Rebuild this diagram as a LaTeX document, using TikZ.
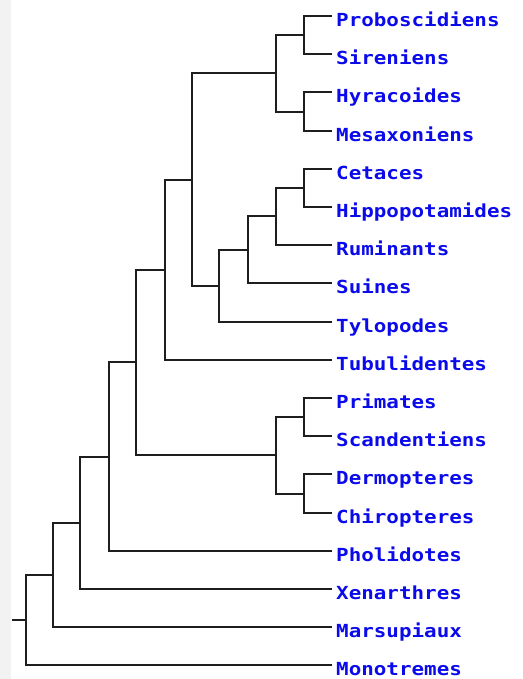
\documentclass[tikz,border=0pt]{standalone}
\usepackage{fontspec}
\usepackage{tikz}
\usetikzlibrary{positioning}
\newfontfamily\taxonfont[FakeStretch=1.16]{DejaVu Sans Mono}
\definecolor{taxon}{RGB}{10, 10, 235}
\definecolor{branchgray}{RGB}{30, 30, 30}
\definecolor{margin}{RGB}{242, 242, 242}

\begin{document}
\begin{tikzpicture}[x=1pt, y=-1pt,
    leaf/.style={anchor=north west, inner xsep=4pt, inner ysep=0pt,
                 text height=10.5pt, text depth=2pt, text=taxon,
                 font={\taxonfont\bfseries\fontsize{18pt}{20pt}\selectfont}},
    branch/.style={draw=branchgray, line width=2pt}]

    % Frame
    \fill[white] (0,0) rectangle (522,679);
    \fill[margin] (0,0) rectangle (10.5,679);
    \useasboundingbox (0,0) rectangle (522,679);

    % Leaves
    \node[leaf] (prob) at (332, 16)  {Proboscidiens};
    \node[leaf] (sir)  at (332, 54)  {Sireniens};
    \node[leaf] (hyr)  at (332, 92)  {Hyracoides};
    \node[leaf] (mes)  at (332, 131) {Mesaxoniens};
    \node[leaf] (cet)  at (332, 169) {Cetaces};
    \node[leaf] (hip)  at (332, 207) {Hippopotamides};
    \node[leaf] (rum)  at (332, 245) {Ruminants};
    \node[leaf] (sui)  at (332, 283) {Suines};
    \node[leaf] (tyl)  at (332, 322) {Tylopodes};
    \node[leaf] (tub)  at (332, 360) {Tubulidentes};
    \node[leaf] (pri)  at (332, 398) {Primates};
    \node[leaf] (sca)  at (332, 436) {Scandentiens};
    \node[leaf] (der)  at (332, 474) {Dermopteres};
    \node[leaf] (chi)  at (332, 513) {Chiropteres};
    \node[leaf] (pho)  at (332, 551) {Pholidotes};
    \node[leaf] (xen)  at (332, 589) {Xenarthres};
    \node[leaf] (mar)  at (332, 627) {Marsupiaux};
    \node[leaf] (mon)  at (332, 665) {Monotremes};

    % Clades
    \coordinate (probsir) at (304, 35);
    \coordinate (hyrmes)  at (304, 112);
    \coordinate (paen)    at (276, 73);
    \coordinate (cethip)  at (304, 188);
    \coordinate (cetrum)  at (276, 216);
    \coordinate (cetsui)  at (248, 250);
    \coordinate (cetart)  at (219, 286);
    \coordinate (ungul)   at (192, 180);
    \coordinate (tubul)   at (165, 270);
    \coordinate (prisca)  at (304, 417);
    \coordinate (derchi)  at (304, 494);
    \coordinate (archon)  at (276, 455);
    \coordinate (placa)   at (136, 362);
    \coordinate (placb)   at (109, 457);
    \coordinate (placen)  at (80, 523);
    \coordinate (theria)  at (53, 575);
    \coordinate (mamm)    at (26, 620);
    \coordinate (root)    at (12, 620);

    % Branches
    \foreach \a/\b in {probsir/prob, probsir/sir, hyrmes/hyr, hyrmes/mes,
                       cethip/cet, cethip/hip, cetrum/rum, cetsui/sui,
                       cetart/tyl, tubul/tub, prisca/pri, prisca/sca,
                       derchi/der, derchi/chi, placb/pho, placen/xen,
                       theria/mar, mamm/mon}
        \draw[branch] (\a) |- (\b.north west);
    \foreach \a/\b in {paen/probsir, paen/hyrmes, cetrum/cethip, cetsui/cetrum,
                       cetart/cetsui, ungul/paen, ungul/cetart, tubul/ungul,
                       archon/prisca, archon/derchi, placa/tubul, placa/archon,
                       placb/placa, placen/placb, theria/placen, mamm/theria}
        \draw[branch] (\a) |- (\b);
    \draw[branch] (root) -- (mamm);
\end{tikzpicture}
\end{document}
